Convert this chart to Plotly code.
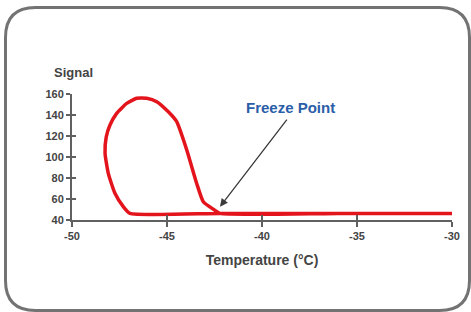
import plotly.graph_objects as go

temps = [-30.0, -36.0, -42.2, -46.95, -47.3, -47.74, -48.09, -48.26, -48.2, -48.0, -47.65, -47.12, -46.6,
         -46.07, -45.54, -44.93, -44.49, -43.96, -43.44, -43.09, -42.56, -42.2, -36.0, -30.0]
signal = [46.3, 46.3, 46.3, 46.3, 52.7, 65.4, 84.4, 103.5, 119.0, 130.5, 141.6, 151.0, 155.9,
          155.9, 152.7, 143.0, 133.6, 106.7, 75.0, 57.4, 50.2, 46.3, 46.3, 46.3]

x_ticks = [-50, -45, -40, -35, -30]
x_tick_labels = ["-50", "-45", "-40", "-35", "-30"]
y_ticks = [40, 60, 80, 100, 120, 140, 160]

freeze_tip = (-42.21, 52.7)
freeze_tail = (-38.63, 137.0)
freeze_label = "Freeze Point"

W, H = 471, 312
L, R, T, B = 72, 19, 94, 92
pw, ph = W - L - R, H - T - B

def px(xp):
    return (xp - L) / pw

def py(yp):
    return (H - B - yp) / ph

fig = go.Figure()
fig.add_trace(go.Scatter(x=temps, y=signal, mode="lines",
                         line=dict(color="#e3141b", width=3.5, shape="spline", smoothing=0.5),
                         hoverinfo="skip", showlegend=False))
# invisible trace for overlay axes (crossing ticks)
fig.add_trace(go.Scatter(x=temps, y=signal, mode="lines", xaxis="x2", yaxis="y2",
                         line=dict(width=0, color="rgba(0,0,0,0)"),
                         hoverinfo="skip", showlegend=False))

axcol = "#606060"
tickfont = dict(family="Liberation Sans, Arial", size=11, color="#444444", weight="bold")
fig.update_layout(
    width=W, height=H,
    margin=dict(l=L, r=R, t=T, b=B),
    paper_bgcolor="white", plot_bgcolor="white",
    xaxis=dict(range=[-50, -30], tickvals=x_ticks, ticktext=x_tick_labels, ticks="outside",
               ticklen=5, tickwidth=2,
               tickcolor=axcol, showline=True, linecolor=axcol, linewidth=2, showgrid=False,
               zeroline=False, tickfont=tickfont,
               title=dict(text="Temperature (°C)", standoff=14,
                          font=dict(family="Liberation Sans, Arial", size=14, color="#444444", weight="bold"))),
    yaxis=dict(range=[40, 160], tickvals=y_ticks, ticks="outside", ticklen=4, tickwidth=2,
               tickcolor=axcol, showline=True, linecolor=axcol, linewidth=2, showgrid=False,
               zeroline=False, tickfont=tickfont),
    xaxis2=dict(range=[-50, -30], tickvals=x_ticks, ticks="inside", ticklen=5, tickwidth=2,
                tickcolor=axcol, showticklabels=False, showgrid=False, zeroline=False,
                overlaying="x", anchor="y2", side="bottom"),
    yaxis2=dict(range=[40, 160], tickvals=y_ticks, ticks="inside", ticklen=4, tickwidth=2,
                tickcolor=axcol, showticklabels=False, showgrid=False, zeroline=False,
                overlaying="y", anchor="x2", side="left"),
)

fig.add_annotation(x=freeze_tip[0], y=freeze_tip[1], ax=freeze_tail[0], ay=freeze_tail[1],
                   axref="x", ayref="y", xref="x", yref="y", text="", showarrow=True,
                   arrowhead=2, arrowsize=1.2, arrowwidth=1.3, arrowcolor="#3a3a3a")
fig.add_annotation(x=freeze_tail[0] + 0.15, y=freeze_tail[1] + 10.5, xref="x", yref="y",
                   text=freeze_label, showarrow=False,
                   font=dict(family="Liberation Sans, Arial", size=15, color="#2b5ea8", weight="bold"))
fig.add_annotation(x=px(73), y=py(72), xref="paper", yref="paper", text="Signal",
                   showarrow=False, xanchor="center", yanchor="middle",
                   font=dict(family="Liberation Sans, Arial", size=13, color="#444444", weight="bold"))

# rounded frame
l, r, t, b = px(5.5), px(469.5), py(7.5), py(310.5)
rx, ry = 30 / pw, 30 / ph
path = (f"M {l+rx},{t} L {r-rx},{t} Q {r},{t} {r},{t-ry} L {r},{b+ry} Q {r},{b} {r-rx},{b} "
        f"L {l+rx},{b} Q {l},{b} {l},{b+ry} L {l},{t-ry} Q {l},{t} {l+rx},{t} Z")
fig.add_shape(type="path", path=path, xref="paper", yref="paper",
              line=dict(color="#737373", width=3), layer="below")

fig.write_html("out.html", config={"displayModeBar": False},
               post_script="document.body.style.margin='0';document.body.style.overflow='hidden';")
